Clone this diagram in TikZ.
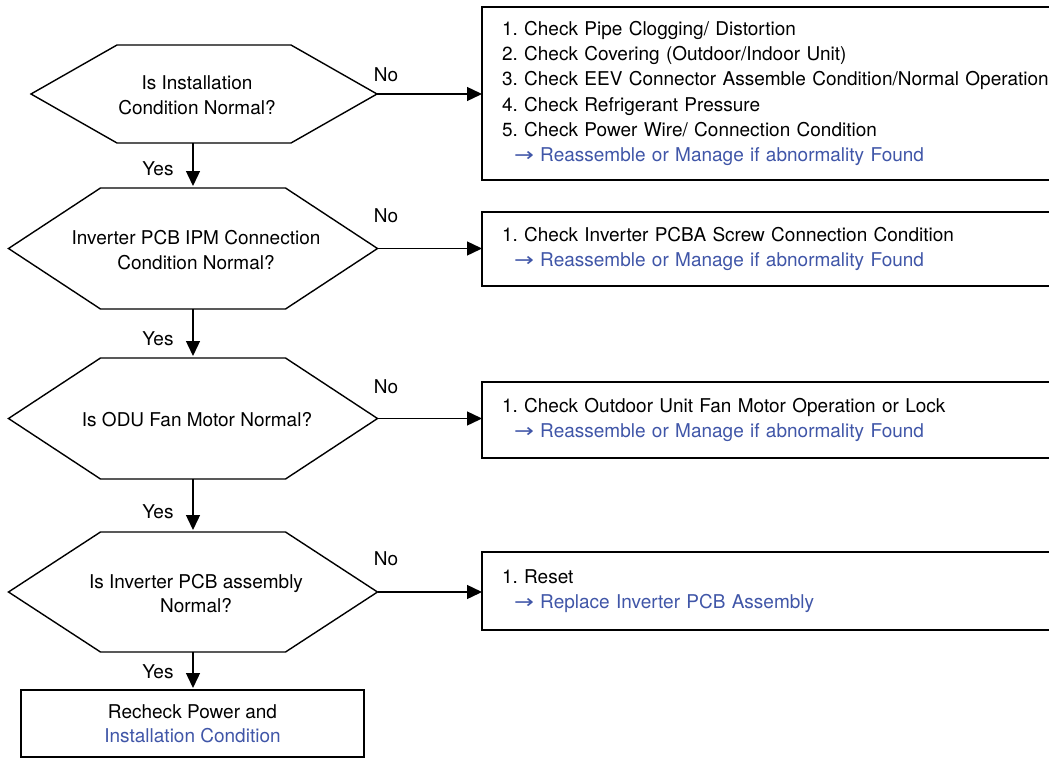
\documentclass[tikz,border=0pt]{standalone}
\usepackage{fontspec}
\setmainfont{TeX Gyre Heros}
\newfontfamily\arrowfont{DejaVu Sans}
\usetikzlibrary{arrows.meta,calc}
\definecolor{linkblue}{RGB}{64,86,168}
\newcommand{\ra}{{\arrowfont\scalebox{1.25}[1]{→}}}
\newcommand{\hexshape}[6]{%
  \coordinate (#1-c) at (#2,#3);
  \draw[hexline] ($(#1-c)+(-#4,-#5)$) -- ($(#1-c)+(#4,-#5)$)
    -- ($(#1-c)+(#4+#6,0)$) coordinate (#1-e)
    -- ($(#1-c)+(#4,#5)$) -- ($(#1-c)+(-#4,#5)$)
    -- ($(#1-c)+(-#4-#6,0)$) coordinate (#1-w) -- cycle;
  \coordinate (#1-n) at ($(#1-c)+(0,-#5)$);
  \coordinate (#1-s) at ($(#1-c)+(0,#5)$);}
\frenchspacing
\begin{document}
\begin{tikzpicture}[x=1pt,y=-1pt,
  font=\fontsize{19}{24.5}\selectfont,
  every node/.style={inner sep=0pt, outer sep=0pt},
  hexline/.style={line width=1.4pt, line join=miter},
  hextext/.style={align=center},
  rbox/.style={draw, line width=1.4pt, anchor=west, align=left,
     text width=580pt, inner xsep=20pt, minimum width=620pt,
     font=\fontsize{19}{25.2}\selectfont},
  endbox/.style={draw, line width=1.4pt, align=center, minimum width=343pt},
  arr/.style={line width=1.4pt, -{Triangle[length=15pt,width=14pt]}},
  lbl/.style={},
]
\clip (0,0) rectangle (1049,760);
\fill[white] (0,0) rectangle (1049,760);

% decision hexagons
\hexshape{h1}{204}{94}{87}{49}{86}
\hexshape{h2}{193}{248.5}{92.5}{60.5}{92}
\hexshape{h3}{193}{418.5}{92.5}{60.5}{92}
\hexshape{h4}{193}{592}{92.5}{60}{92}

\node[hextext] (t1) at (197,95) {Is Installation\\Condition Normal?};
\node[hextext] (t2) at (196,250) {Inverter PCB IPM Connection\\Condition Normal?};
\node[hextext] (t3) at (197,420) {Is ODU Fan Motor Normal?};
\node[hextext] (t4) at (196,593.5) {Is Inverter PCB assembly\\Normal?};

% action boxes
\node[rbox, minimum height=173pt] (b1) at (482,93.5) {%
1. Check Pipe Clogging/ Distortion\\
2. Check Covering (Outdoor/Indoor Unit)\\
3. Check EEV Connector Assemble Condition/Normal Operation\\
4. Check Refrigerant Pressure\\
5. Check Power Wire/ Connection Condition\\
\hspace*{12pt}{\color{linkblue}\ra{} Reassemble or Manage if abnormality Found}};

\node[rbox, minimum height=74pt] (b2) at (482,249) {%
1. Check Inverter PCBA Screw Connection Condition\\
\hspace*{12pt}{\color{linkblue}\ra{} Reassemble or Manage if abnormality Found}};

\node[rbox, minimum height=76pt] (b3) at (482,420) {%
1. Check Outdoor Unit Fan Motor Operation or Lock\\
\hspace*{12pt}{\color{linkblue}\ra{} Reassemble or Manage if abnormality Found}};

\node[rbox, minimum height=78pt] (b4) at (482,591) {%
1. Reset\\
\hspace*{12pt}{\color{linkblue}\ra{} Replace Inverter PCB Assembly}};

\node[endbox, minimum height=67pt] (fb) at (192.5,723.5) {Recheck Power and\\{\color{linkblue}Installation Condition}};

% No arrows
\draw[arr] (h1-e) -- (h1-e -| b1.west);
\draw[arr] (h2-e) -- (h2-e -| b2.west);
\draw[arr] (h3-e) -- (h3-e -| b3.west);
\draw[arr] (h4-e) -- (h4-e -| b4.west);

% Yes arrows
\draw[arr, shorten >=2pt] (h1-s -| h2-n) -- (h2-n);
\draw[arr, shorten >=2pt] (h2-s) -- (h3-n);
\draw[arr, shorten >=2pt] (h3-s) -- (h4-n);
\draw[arr, shorten >=2pt] (h4-s) -- (h4-s |- fb.north);

% labels
\node[lbl] (no1) at (386,75) {No};
\node[lbl] (no2) at (386,216) {No};
\node[lbl] (no3) at (386,387) {No};
\node[lbl] (no4) at (386,559) {No};
\node[lbl] (yes1) at (158,169) {Yes};
\node[lbl] (yes2) at (158,339) {Yes};
\node[lbl] (yes3) at (158,512) {Yes};
\node[lbl] (yes4) at (158,672) {Yes};
\end{tikzpicture}
\end{document}
